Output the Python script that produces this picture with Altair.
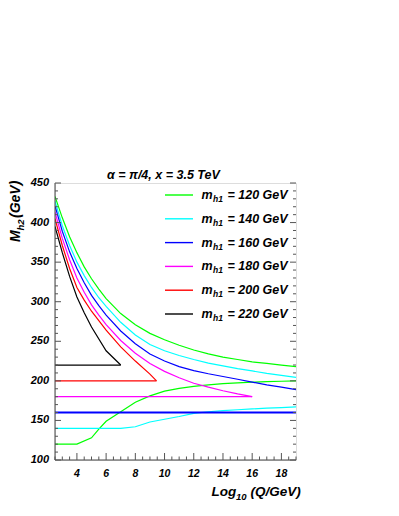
import altair as alt
import pandas as pd

FONT = "Liberation Sans"

# ---------------- data ----------------
masses = ["120", "140", "160", "180", "200", "220"]
colors = ["#00ff00", "#00ffff", "#0000ff", "#ff00ff", "#ff0000", "#000000"]

up_x = [2.5, 3, 3.5, 4, 4.5, 5, 5.5, 6, 7, 8, 9, 10, 11, 12, 13, 14, 15, 16, 17, 18, 19]
green_up = [433, 406, 382, 362, 344, 329, 316, 304, 285, 271, 260, 252, 245, 239, 234, 230, 227, 224, 222, 220, 218]
cyan_up = [427, 396, 371, 350, 333, 318, 305, 294, 274, 258, 246, 238, 232, 227, 222.5, 219, 215.5, 212.5, 209.5, 207, 204.5]
blue_up = [421, 389, 363, 342, 324, 308, 295, 283, 263, 247, 234, 225, 218, 213, 209, 205.5, 202, 198.5, 195, 192, 189]
magenta_up_x = [2.5, 3, 3.5, 4, 4.5, 5, 5.5, 6, 7, 8, 9, 10, 11, 12, 13, 14, 15, 16]
magenta_up = [413, 380, 353, 330, 312, 296, 283, 271, 251, 235, 222, 212, 204, 197, 192, 187.5, 183.5, 180]
red_up_x = [2.5, 3, 3.5, 4, 4.5, 5, 5.5, 6, 7, 8, 9, 9.45]
red_up = [405, 371, 342, 318, 302, 288, 276, 264, 243, 225, 208.5, 200]
black_up_x = [2.5, 3, 3.5, 4, 4.5, 5, 6, 7]
black_up = [395, 362, 332, 306, 286, 268, 238, 220]

green_low_x = [2.5, 4, 5, 5.5, 6, 7, 8, 9, 10, 11, 12, 13, 14, 15, 16, 17, 18, 19]
green_low = [120, 120, 128, 139, 149, 161, 173, 181, 187, 190.5, 193, 195, 196.5, 197.5, 198.3, 199, 199.5, 200]
cyan_low_x = [2.5, 7, 8, 9, 10, 11, 12, 13, 14, 15, 16, 17, 18, 19]
cyan_low = [140, 140, 142, 148, 151.5, 155, 159, 161, 162.5, 163.5, 164.5, 165.5, 166.3, 167]
blue_low_x = [2.5, 19]
blue_low = [160, 160]
magenta_low_x = [2.5, 16]
magenta_low = [180, 180]
red_low_x = [2.5, 9.45]
red_low = [200, 200]
black_low_x = [2.5, 7]
black_low = [220, 220]

title_text = "\u03b1 = \u03c0/4, x = 3.5 TeV"

y_major = [100, 150, 200, 250, 300, 350, 400, 450]
y_minor = [v for v in range(100, 451, 10) if v % 50 != 0]
x_major = [4, 6, 8, 10, 12, 14, 16, 18]
x_minor = [2.5 + 0.5 * i for i in range(34) if (2.5 + 0.5 * i) not in x_major]

# ---------------- build table ----------------
series_defs = [
    ("120", "upper", up_x, green_up), ("120", "lower", green_low_x, green_low),
    ("140", "upper", up_x, cyan_up), ("140", "lower", cyan_low_x, cyan_low),
    ("160", "upper", up_x, blue_up), ("160", "lower", blue_low_x, blue_low),
    ("180", "upper", magenta_up_x, magenta_up), ("180", "lower", magenta_low_x, magenta_low),
    ("200", "upper", red_up_x, red_up), ("200", "lower", red_low_x, red_low),
    ("220", "upper", black_up_x, black_up), ("220", "lower", black_low_x, black_low),
]
rows = []
for s, b, xs, ys in series_defs:
    for xv, yv in zip(xs, ys):
        rows.append({"series": s, "branch": s + b, "x": xv, "y": yv})
df = pd.DataFrame(rows)

W, H = 241, 277
xscale = alt.Scale(domain=[2.5, 19], nice=False, zero=False)
yscale = alt.Scale(domain=[100, 450], nice=False, zero=False)

curves = alt.Chart(df).mark_line(clip=True).encode(
    x=alt.X("x:Q", scale=xscale, axis=None),
    y=alt.Y("y:Q", scale=yscale, axis=None),
    color=alt.Color("series:N", scale=alt.Scale(domain=masses, range=colors), legend=None),
    detail="branch:N",
    order=alt.Order("x:Q"),
    strokeWidth=alt.condition("datum.branch == '160lower'", alt.value(2.0), alt.value(1.2)),
)

txt = dict(font=FONT, fontWeight="bold", fontStyle="italic", color="#000")

# axis lines
axis_lines = [
    alt.Chart(pd.DataFrame({"a": [0]})).mark_rule(color="#444", strokeWidth=1).encode(
        x=alt.value(0), y=alt.value(0), y2=alt.value(H)),
    alt.Chart(pd.DataFrame({"a": [0]})).mark_rule(color="#444", strokeWidth=1).encode(
        x=alt.value(0), x2=alt.value(W), y=alt.value(H)),
]

def yticks(vals, x0, x1):
    return alt.Chart(pd.DataFrame({"v": vals})).mark_rule(color="#555", strokeWidth=1).encode(
        y=alt.Y("v:Q", scale=yscale, axis=None), x=alt.value(x0), x2=alt.value(x1))

def xticks(vals, length):
    return alt.Chart(pd.DataFrame({"v": vals})).mark_rule(color="#555", strokeWidth=1).encode(
        x=alt.X("v:Q", scale=xscale, axis=None), y=alt.value(H), y2=alt.value(H - length))

tick_layers = [
    yticks(y_major, 0, 6), yticks(y_minor, 0, 3),
    yticks(y_major, W, W - 6), yticks(y_minor, W, W - 3),
    xticks(x_major, 7), xticks(x_minor, 3.5),
]

ylabels = alt.Chart(pd.DataFrame({"v": y_major})).mark_text(
    fontSize=11, align="right", baseline="middle", **txt).encode(
    y=alt.Y("v:Q", scale=yscale, axis=None), x=alt.value(-6), text=alt.Text("v:Q", format="d"))
xlabels = alt.Chart(pd.DataFrame({"v": x_major})).mark_text(
    fontSize=10.5, align="center", baseline="middle", **txt).encode(
    x=alt.X("v:Q", scale=xscale, axis=None), y=alt.value(H + 14), text=alt.Text("v:Q", format="d"))

# ---------------- legend ----------------
leg = pd.DataFrame({"series": masses, "idx": list(range(len(masses)))})
leg_base = alt.Chart(leg).transform_calculate(
    ly="12 + 23.8 * datum.idx",
    rest="'= ' + datum.series + ' GeV'",
    sub="'h1'",
    m="'m'",
)
leg_lines = leg_base.mark_rule(strokeWidth=1.4).encode(
    x=alt.value(110), x2=alt.value(138),
    y=alt.Y("ly:Q", scale=None),
    color=alt.Color("series:N", scale=alt.Scale(domain=masses, range=colors), legend=None),
)
ltxt = dict(align="left", baseline="middle", **txt)
leg_m = leg_base.mark_text(fontSize=12.5, **ltxt).encode(
    x=alt.value(146.5), y=alt.Y("ly:Q", scale=None), text="m:N")
leg_sub = leg_base.mark_text(fontSize=8.5, dy=4, **ltxt).encode(
    x=alt.value(158), y=alt.Y("ly:Q", scale=None), text="sub:N")
leg_rest = leg_base.mark_text(fontSize=12.5, **ltxt).encode(
    x=alt.value(172.5), y=alt.Y("ly:Q", scale=None), text="rest:N")

# ---------------- titles ----------------
title_mark = alt.Chart(pd.DataFrame({"t": [title_text]})).mark_text(fontSize=12.5, **ltxt).encode(
    x=alt.value(52), y=alt.value(-8), text="t:N")

ytitle_M = alt.Chart(pd.DataFrame({"t": ["M"]})).mark_text(fontSize=14, angle=270, **ltxt).encode(
    x=alt.value(-39.5), y=alt.value(59), text="t:N")
ytitle_sub = alt.Chart(pd.DataFrame({"t": ["h2"]})).mark_text(fontSize=9.5, angle=270, **ltxt).encode(
    x=alt.value(-34.5), y=alt.value(47.5), text="t:N")
ytitle_rest = alt.Chart(pd.DataFrame({"t": ["(GeV)"]})).mark_text(fontSize=14, angle=270, **ltxt).encode(
    x=alt.value(-39.5), y=alt.value(35), text="t:N")

xtitle_L = alt.Chart(pd.DataFrame({"t": ["Log"]})).mark_text(fontSize=13.5, **ltxt).encode(
    x=alt.value(156.5), y=alt.value(309), text="t:N")
xtitle_sub = alt.Chart(pd.DataFrame({"t": ["10"]})).mark_text(fontSize=9.5, dy=5, **ltxt).encode(
    x=alt.value(181), y=alt.value(309), text="t:N")
xtitle_rest = alt.Chart(pd.DataFrame({"t": ["(Q/GeV)"]})).mark_text(fontSize=13.5, **ltxt).encode(
    x=alt.value(195.5), y=alt.value(309), text="t:N")

chart = alt.layer(
    curves, *axis_lines, *tick_layers, ylabels, xlabels,
    leg_lines, leg_m, leg_sub, leg_rest,
    title_mark, ytitle_M, ytitle_sub, ytitle_rest, xtitle_L, xtitle_sub, xtitle_rest,
).properties(
    width=W, height=H,
    autosize=alt.AutoSizeParams(type="none"),
    padding={"left": 47, "top": 175, "right": 95, "bottom": 48},
).configure_view(stroke="#b0b0b0", strokeWidth=1).configure(background="white")

chart.save("out.html", embed_options={"renderer": "svg", "actions": False})
